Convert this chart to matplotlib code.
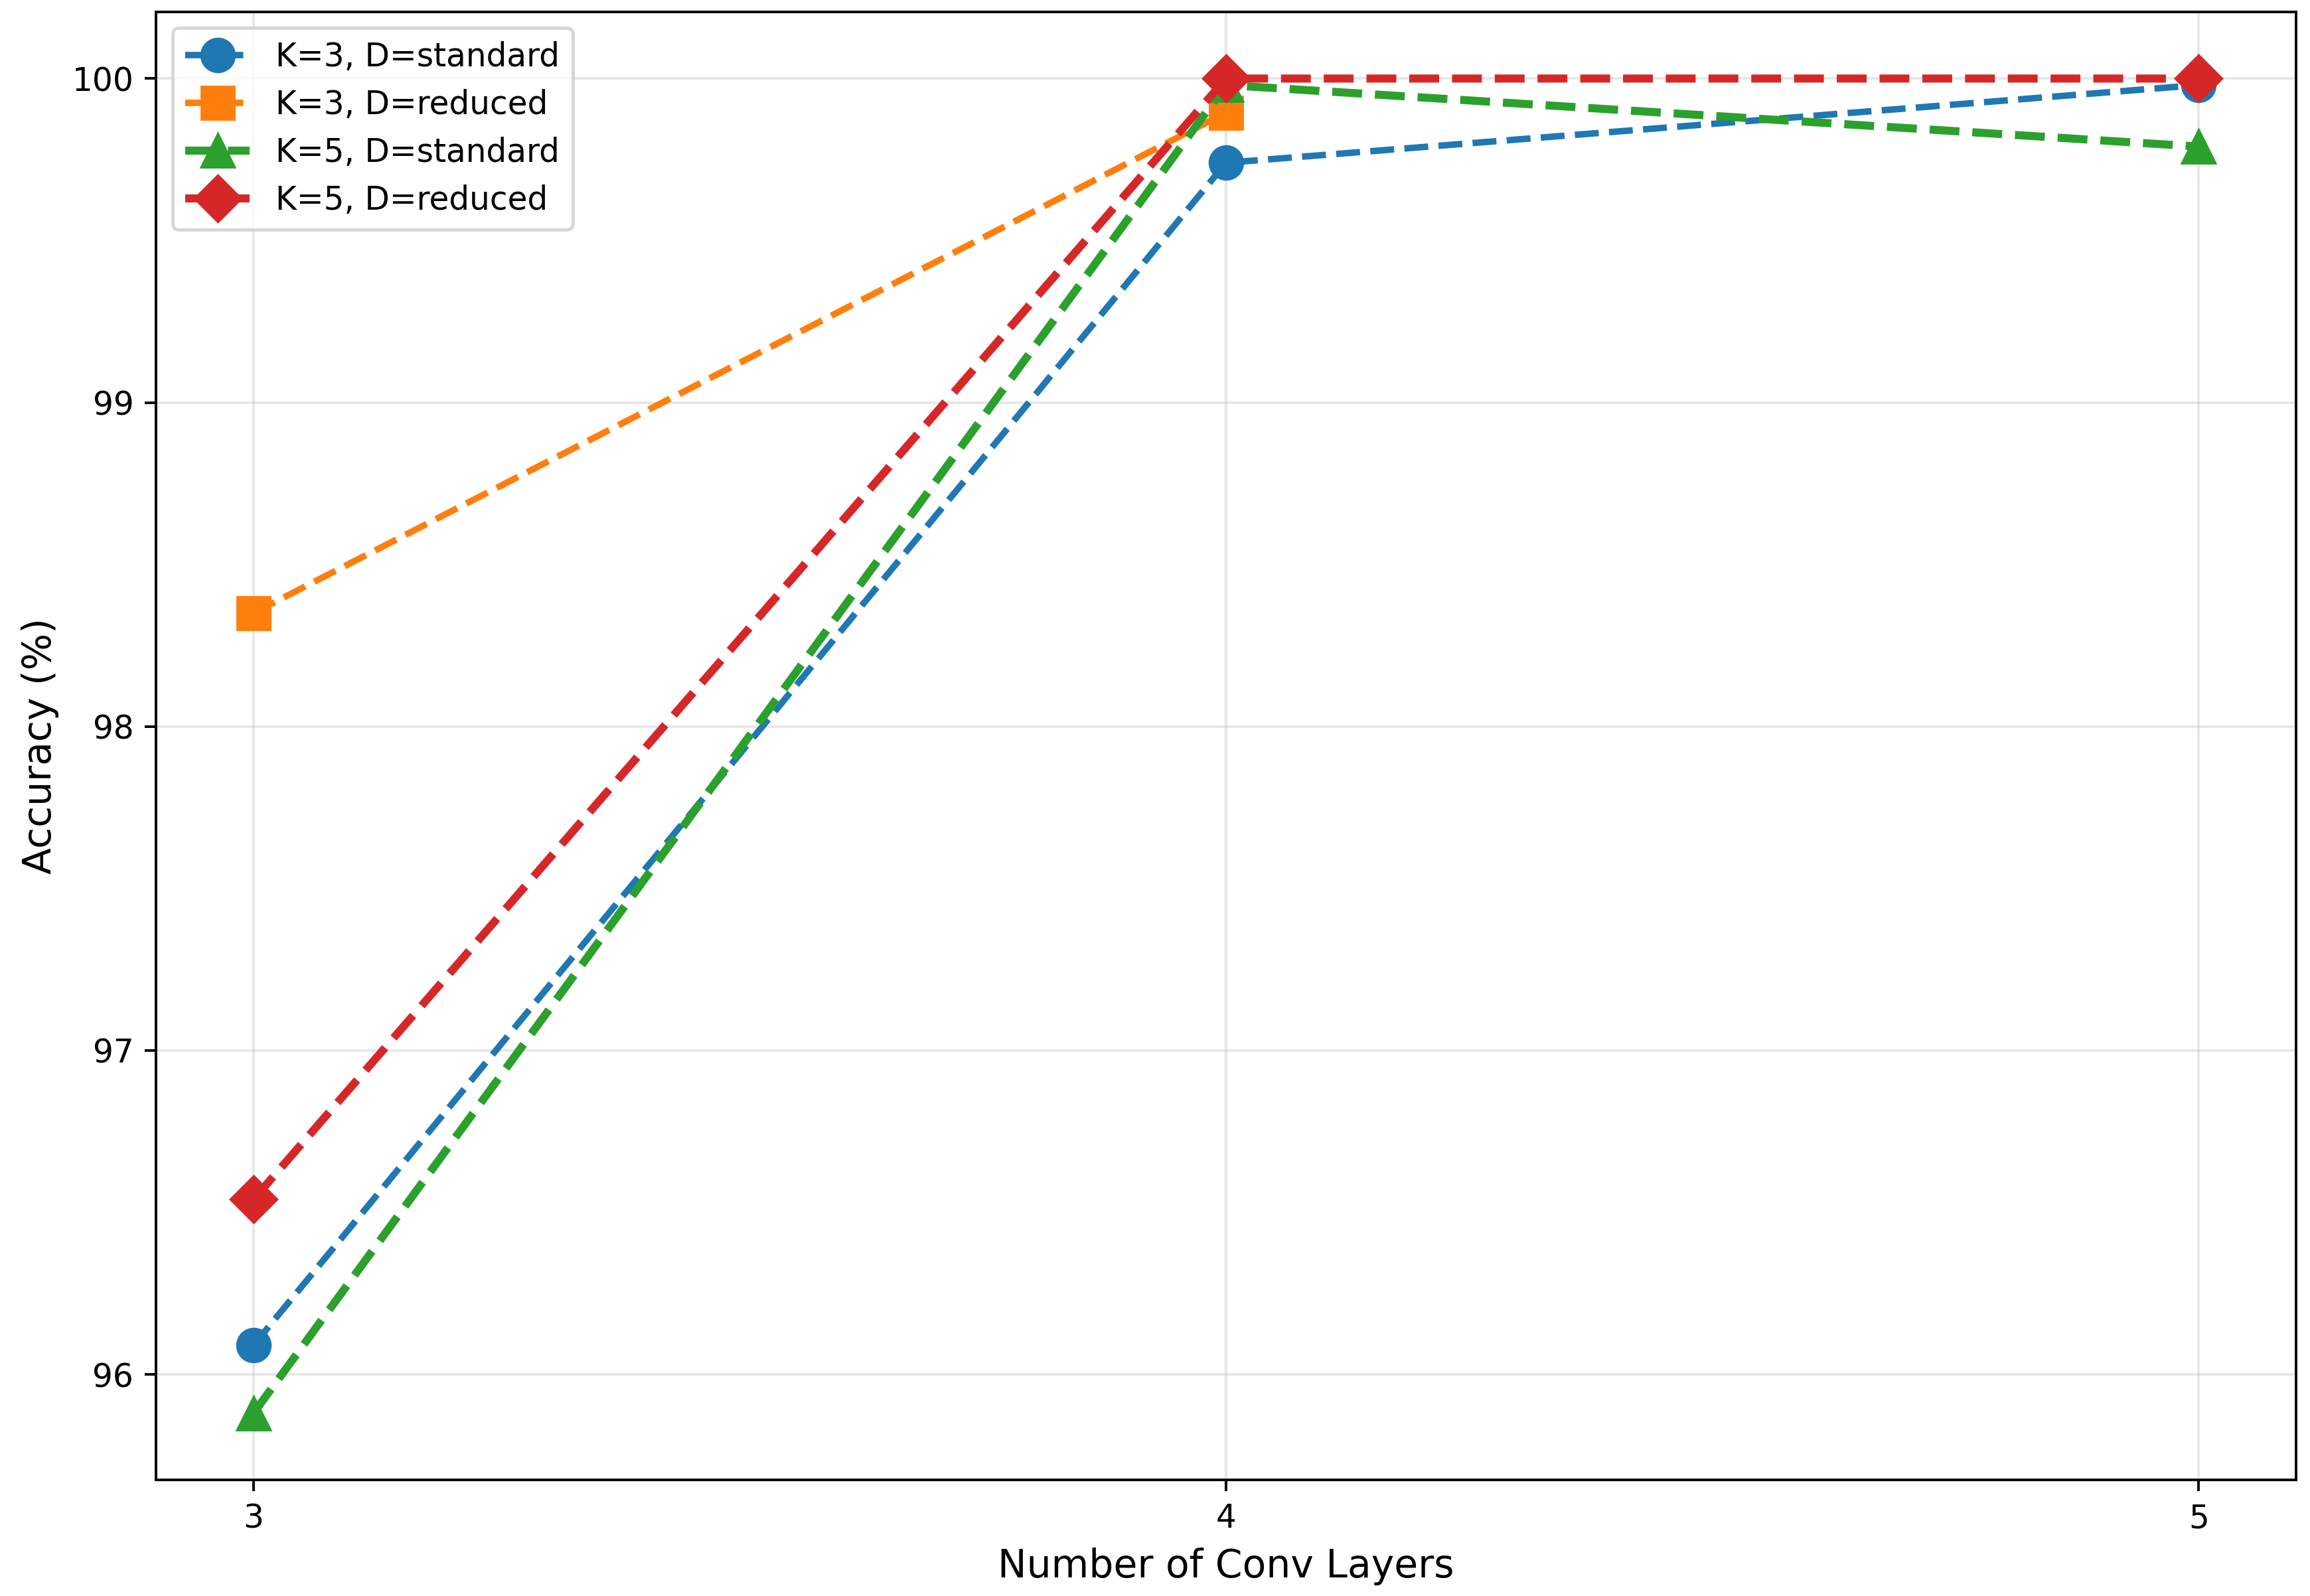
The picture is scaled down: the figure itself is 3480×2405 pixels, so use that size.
import matplotlib
matplotlib.use("Agg")
import matplotlib.pyplot as plt
import numpy as np

conv_layers = [3, 4, 5]
labels = ["K=3, D=standard", "K=3, D=reduced", "K=5, D=standard", "K=5, D=reduced"]
acc_k3_std = [96.09, 99.74, 99.98]
acc_k3_red = [98.35, 99.895, np.nan]
acc_k5_std = [95.88, 99.98, 99.79]
acc_k5_red = [96.54, 100.0, 100.0]

series = [acc_k3_std, acc_k3_red, acc_k5_std, acc_k5_red]
colors = ["#1f77b4", "#ff7f0e", "#2ca02c", "#d62728"]
markers = ["o", "s", "^", "D"]
widths = [2, 2, 2.5, 2.5]

DPI = 350
fig = plt.figure(figsize=(3481 / DPI, 2405 / DPI), dpi=DPI)
ax = fig.add_axes([0.0676, 0.0727, 0.9260, 0.9199])
for vals, lab, c, m, lw in zip(series, labels, colors, markers, widths):
    ax.plot(conv_layers, vals, linestyle="--", marker=m, color=c, linewidth=lw,
            markersize=10, label=lab)

ax.set_xticks(conv_layers)
ax.set_xlabel("Number of Conv Layers", fontsize=12)
ax.set_ylabel("Accuracy (%)", fontsize=12)
ax.grid(True, alpha=0.3)
ax.legend(loc="upper left", fontsize=10)
fig.savefig("out.png", dpi=DPI)
